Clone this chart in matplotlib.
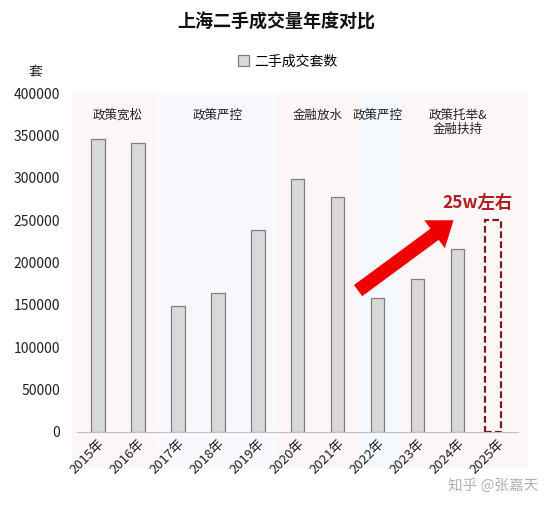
import matplotlib
matplotlib.use("Agg")
import matplotlib.pyplot as plt
from matplotlib.patches import Rectangle

plt.rcParams['font.family'] = ['Noto Sans CJK SC', 'DejaVu Sans']

years = ["2015年", "2016年", "2017年", "2018年", "2019年", "2020年",
         "2021年", "2022年", "2023年", "2024年", "2025年"]
deals = [346000, 341000, 148500, 164000, 238500, 298500,
         277500, 158000, 180500, 216000]
forecast_2025 = 250000

# policy phases: (label, first index, last index, colour)
phases = [
    ("政策宽松", 0, 1, "#fdf6f6"),
    ("政策严控", 2, 4, "#f8f9fc"),
    ("金融放水", 5, 6, "#fdf6f6"),
    ("政策严控", 7, 7, "#f5f8fc"),
    ("政策托举&\n金融扶持", 8, 10, "#fdf6f6"),
]

fig = plt.figure(figsize=(5.52, 5.07), dpi=100)
ax = fig.add_axes([0.1395, 0.148, 0.7985, 0.668])

for label, a, b, col in phases:
    lo = a - 0.5 if a > 0 else a - 0.65
    hi = b + 0.5 if b < 10 else b + 0.75
    ax.axvspan(lo, hi, ymin=-0.11, ymax=1.0, color=col,
               zorder=0, lw=0, clip_on=False)
    ax.text((a + b) / 2, 382000, label, ha="center", va="top",
            fontsize=9, color="#222222", linespacing=1.1)

x = list(range(len(deals)))
ax.bar(x, deals, width=0.33, color="#d9d9d9", edgecolor="#7f7f7f",
       linewidth=0.9, zorder=2, label="二手成交套数")

# forecast 2025 as dashed box
ax.add_patch(Rectangle((len(deals) - 0.33, 0), 0.41, forecast_2025,
                       fill=False, ls=(0, (3, 1.5)), lw=1.6,
                       edgecolor="#7a1c1c", zorder=3))

ax.annotate("", xy=(8.95, 252000), xytext=(6.45, 165000),
            arrowprops=dict(arrowstyle="simple,head_width=1.25,head_length=0.85,tail_width=0.5",
                            mutation_scale=20, color="#f00000", lw=0),
            zorder=4)
ax.text(9.5, 270000, "25w左右", ha="center", va="center", fontsize=12.5,
        fontweight="bold", color="#b01e23", zorder=5)

ax.set_xlim(-0.525, 10.5)
ax.set_ylim(0, 400000)
ax.set_yticks(range(0, 400001, 50000))
ax.set_xticks(range(len(years)))
ax.set_xticklabels(years, rotation=45, ha="right", rotation_mode="anchor",
                   fontsize=9.5, color="#222222")
ax.tick_params(axis="y", labelsize=10, length=0, pad=12, colors="#222222")
ax.tick_params(axis="x", length=0, pad=4)
for s in ["top", "right", "left"]:
    ax.spines[s].set_visible(False)
ax.spines["bottom"].set_color("#bfbfbf")
ax.patch.set_alpha(0)

fig.text(0.065, 0.858, "套", fontsize=10, ha="center", va="center", color="#222222")
fig.text(0.5, 0.957, "上海二手成交量年度对比", fontsize=13, fontweight="bold",
         ha="center", va="center", color="#111111")
ax.legend(loc="center", bbox_to_anchor=(0.478, 1.094), frameon=False,
          fontsize=10, handlelength=0.8, handleheight=0.8, handletextpad=0.4)
fig.text(0.975, 0.042, "知乎 @张嘉天", fontsize=10.5, ha="right", va="center",
         color="#b0b0b0")

fig.savefig("out.png", dpi=100)
